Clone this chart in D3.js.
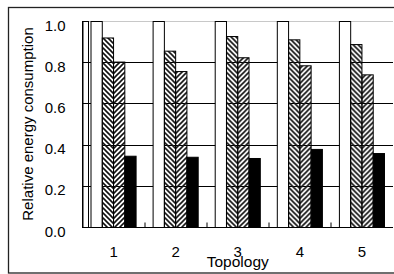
<!DOCTYPE html>
<html>
<head>
<meta charset="utf-8">
<script src="https://cdn.jsdelivr.net/npm/d3@7"></script>
<style>
  body { margin: 0; background: #fff; }
  text { font-family: "Liberation Sans", Arial, sans-serif; fill: #000; }
</style>
</head>
<body>
<div id="chart"></div>
<script>
// chart data
var topologies = ["1", "2", "3", "4", "5"];
var seriesNames = ["base", "hatchA", "hatchB", "solid"];
var baseValues = [1.0, 1.0, 1.0, 1.0, 1.0];
var hatchAValues = [0.920, 0.856, 0.927, 0.911, 0.888];
var hatchBValues = [0.803, 0.757, 0.824, 0.785, 0.741];
var solidValues = [0.346, 0.341, 0.335, 0.379, 0.359];
var yTicks = [0.0, 0.2, 0.4, 0.6, 0.8, 1.0];

var allValues = [baseValues, hatchAValues, hatchBValues, solidValues];

var svgWidth = 394;
var svgHeight = 274;

var margin = { top: 21, right: 1, bottom: 47, left: 82.5 };
var width = svgWidth - margin.left - margin.right;
var height = svgHeight - margin.top - margin.bottom;

var svg = d3.select("#chart")
  .append("svg")
  .attr("width", svgWidth)
  .attr("height", svgHeight);

// hatch patterns
var defs = svg.append("defs");
defs.append("pattern")
  .attr("id", "hatchA")
  .attr("patternUnits", "userSpaceOnUse")
  .attr("width", 5).attr("height", 5)
  .append("path")
  .attr("d", "M0,0 L5,5 M-1,4 L1,6 M4,-1 L6,1")
  .attr("stroke", "#111")
  .attr("stroke-width", 1.6);
defs.append("pattern")
  .attr("id", "hatchB")
  .attr("patternUnits", "userSpaceOnUse")
  .attr("width", 5).attr("height", 5)
  .append("path")
  .attr("d", "M0,5 L5,0 M-1,1 L1,-1 M4,6 L6,4")
  .attr("stroke", "#111")
  .attr("stroke-width", 1.6);

var fills = {
  base: "#fff",
  hatchA: "url(#hatchA)",
  hatchB: "url(#hatchB)",
  solid: "#000"
};

// outer frame
svg.append("rect")
  .attr("x", 8.5)
  .attr("y", 7.5)
  .attr("width", svgWidth + 10)
  .attr("height", 265.5)
  .attr("fill", "none")
  .attr("stroke", "#222")
  .attr("stroke-width", 1.3);

var chartGroup = svg.append("g")
  .attr("transform", `translate(${margin.left}, ${margin.top})`);

// scales
var xScale = d3.scaleBand()
  .domain(topologies)
  .range([0, width])
  .padding(0);

var groupWidth = xScale.bandwidth() * 0.726;
var xInner = d3.scaleBand()
  .domain(seriesNames)
  .range([0, groupWidth])
  .padding(0);

var yScale = d3.scaleLinear()
  .domain([0, 1])
  .range([height, 0]);

// gridlines
chartGroup.selectAll(".grid")
  .data(yTicks.filter(d => d > 0))
  .enter()
  .append("line")
  .attr("x1", 0)
  .attr("x2", width)
  .attr("y1", d => Math.round(yScale(d)) + 0.5)
  .attr("y2", d => Math.round(yScale(d)) + 0.5)
  .attr("stroke", d => d === 1 ? "#c8c8c8" : "#000")
  .attr("stroke-width", 1);

// narrow strip next to the y axis
chartGroup.append("rect")
  .attr("x", 0)
  .attr("y", yScale(1) + 0.5)
  .attr("width", 6)
  .attr("height", yScale(0) - yScale(1))
  .attr("fill", "none")
  .attr("stroke", "#000")
  .attr("stroke-width", 1);

// bars
var groups = chartGroup.selectAll(".topo")
  .data(topologies)
  .enter()
  .append("g")
  .attr("transform", d => `translate(${xScale(d) + (xScale.bandwidth() - groupWidth) / 2}, 0)`);

groups.selectAll("rect")
  .data((d, i) => seriesNames.map((s, j) => ({ series: s, value: allValues[j][i] })))
  .enter()
  .append("rect")
  .attr("x", d => xInner(d.series))
  .attr("y", d => yScale(d.value) + 0.5)
  .attr("width", xInner.bandwidth())
  .attr("height", d => yScale(0) - yScale(d.value))
  .attr("fill", d => fills[d.series])
  .attr("stroke", "#000")
  .attr("stroke-width", 1);

// y axis
var leftAxis = d3.axisLeft(yScale)
  .tickValues(yTicks)
  .tickSize(0)
  .tickPadding(17)
  .tickFormat(d3.format(".1f"));

var yAxisG = chartGroup.append("g").call(leftAxis);
yAxisG.select(".domain").attr("stroke", "#000").attr("d", `M0.5,${yScale(1) + 0.5}V${yScale(0) + 0.5}`);
yAxisG.selectAll("text")
  .style("font-size", "15px")
  .attr("dy", "0.6em");

// x axis
var bottomAxis = d3.axisBottom(xScale)
  .tickSize(0)
  .tickPadding(19);

var xAxisG = chartGroup.append("g")
  .attr("transform", `translate(0, ${Math.round(height) + 0.5})`)
  .call(bottomAxis);
xAxisG.select(".domain").attr("stroke", "#000").attr("d", `M0,0H${width}`);
xAxisG.selectAll("text").style("font-size", "15px");

// ticks between categories
xAxisG.selectAll(".sep")
  .data(topologies.slice(1))
  .enter()
  .append("line")
  .attr("x1", d => Math.round(xScale(d)) + 0.5)
  .attr("x2", d => Math.round(xScale(d)) + 0.5)
  .attr("y1", 0)
  .attr("y2", -5)
  .attr("stroke", "#000");

// axes labels
svg.append("text")
  .attr("transform", "rotate(-90)")
  .attr("x", -(margin.top + height / 2))
  .attr("y", 33)
  .attr("text-anchor", "middle")
  .style("font-size", "15px")
  .text("Relative energy consumption");

svg.append("text")
  .attr("x", margin.left + width / 2)
  .attr("y", 267)
  .attr("text-anchor", "middle")
  .style("font-size", "15.5px")
  .text("Topology");
</script>
</body>
</html>
